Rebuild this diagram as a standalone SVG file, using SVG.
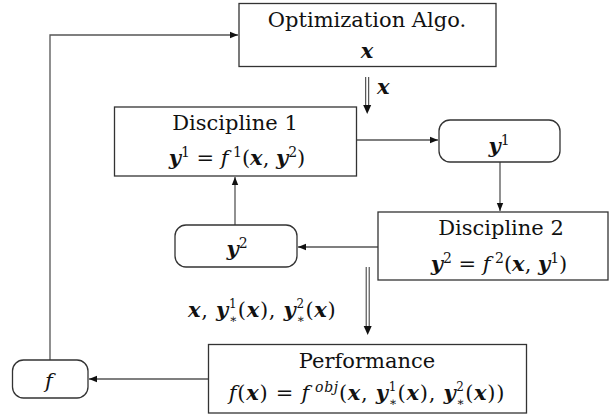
<svg xmlns="http://www.w3.org/2000/svg" width="609" height="416" viewBox="0 0 609 416">
<defs>
<marker id="ah" markerWidth="8" markerHeight="8" refX="8" refY="4" orient="auto" markerUnits="userSpaceOnUse">
<path d="M0,0.8 L8,4 L0,7.2 Z" fill="#111"/>
</marker>
<style>
text{font-family:"DejaVu Serif","Liberation Serif",serif;font-size:21px;fill:#111}
.box{fill:#fff;stroke:#333;stroke-width:1.3}
.ln{fill:none;stroke:#555;stroke-width:1.3}
.dl{fill:none;stroke:#333;stroke-width:1}
.bi{font-weight:bold;font-style:italic}
.it{font-style:italic}
.sp{font-size:14px}
.ss{font-size:12px}
.wide{letter-spacing:0.7px}
</style>
</defs>
<rect width="609" height="416" fill="#fff"/>

<g id="connectors">
<path class="ln" d="M50,360 V35 H238" marker-end="url(#ah)"/>
<path class="ln" d="M357,140 H438" marker-end="url(#ah)"/>
<path class="ln" d="M500,162 V211" marker-end="url(#ah)"/>
<path class="ln" d="M378,247 H298" marker-end="url(#ah)"/>
<path class="ln" d="M235,225 V177" marker-end="url(#ah)"/>
<path class="ln" d="M208,379 H89" marker-end="url(#ah)"/>
<g id="dbl1">
<path class="dl" d="M365.7,77 V106 M368.7,77 V106"/>
<path d="M363.2,105 L367.2,114 L371.2,105 Z" fill="#111"/>
</g>
<g id="dbl2">
<path class="dl" d="M366.2,267 V327 M369.2,267 V327"/>
<path d="M363.7,326 L367.7,335 L371.7,326 Z" fill="#111"/>
</g>
<text x="377" y="94" class="bi">x</text>
<text x="188" y="317" class="wide"><tspan class="bi">x</tspan>, <tspan class="bi">y</tspan><tspan class="ss" dy="-9">1</tspan><tspan class="ss" dx="-8.3" dy="15">∗</tspan><tspan dy="-6">(</tspan><tspan class="bi">x</tspan>), <tspan class="bi">y</tspan><tspan class="ss" dy="-9">2</tspan><tspan class="ss" dx="-8.3" dy="15">∗</tspan><tspan dy="-6">(</tspan><tspan class="bi">x</tspan>)</text>
</g>

<g id="opt">
<rect class="box" x="239" y="3.5" width="257" height="63"/>
<text x="367" y="27" text-anchor="middle">Optimization Algo.</text>
<text x="367" y="58" text-anchor="middle" class="bi">x</text>
</g>

<g id="disc1">
<rect class="box" x="114.5" y="107" width="242" height="69"/>
<text x="235" y="130" text-anchor="middle">Discipline 1</text>
<text x="237" y="165" text-anchor="middle"><tspan class="bi">y</tspan><tspan class="sp" dy="-8">1</tspan><tspan dy="8"> = </tspan><tspan class="it">f</tspan><tspan class="sp" dy="-8"> 1</tspan><tspan dy="8">(</tspan><tspan class="bi">x</tspan>, <tspan class="bi">y</tspan><tspan class="sp" dy="-8">2</tspan><tspan dy="8">)</tspan></text>
</g>

<g id="y1">
<rect class="box" x="439" y="120" width="121" height="42" rx="11"/>
<text x="499" y="153" text-anchor="middle"><tspan class="bi">y</tspan><tspan class="sp" dy="-8">1</tspan></text>
</g>

<g id="disc2">
<rect class="box" x="378" y="212" width="230" height="68"/>
<text x="501" y="235" text-anchor="middle">Discipline 2</text>
<text x="499" y="271" text-anchor="middle"><tspan class="bi">y</tspan><tspan class="sp" dy="-8">2</tspan><tspan dy="8"> = </tspan><tspan class="it">f</tspan><tspan class="sp" dy="-8"> 2</tspan><tspan dy="8">(</tspan><tspan class="bi">x</tspan>, <tspan class="bi">y</tspan><tspan class="sp" dy="-8">1</tspan><tspan dy="8">)</tspan></text>
</g>

<g id="y2">
<rect class="box" x="175" y="225" width="122" height="42" rx="11"/>
<text x="237" y="256" text-anchor="middle"><tspan class="bi">y</tspan><tspan class="sp" dy="-8">2</tspan></text>
</g>

<g id="perf">
<rect class="box" x="208.5" y="344.5" width="318" height="68.5"/>
<text x="367" y="368" text-anchor="middle">Performance</text>
<text x="367" y="400" text-anchor="middle" class="wide"><tspan class="it">f</tspan>(<tspan class="bi">x</tspan>) = <tspan class="it">f</tspan><tspan class="sp it" dy="-8"> obj</tspan><tspan dy="8">(</tspan><tspan class="bi">x</tspan>, <tspan class="bi">y</tspan><tspan class="ss" dy="-9">1</tspan><tspan class="ss" dx="-8.3" dy="15">∗</tspan><tspan dy="-6">(</tspan><tspan class="bi">x</tspan>), <tspan class="bi">y</tspan><tspan class="ss" dy="-9">2</tspan><tspan class="ss" dx="-8.3" dy="15">∗</tspan><tspan dy="-6">(</tspan><tspan class="bi">x</tspan>))</text>
</g>

<g id="f">
<rect class="box" x="12.5" y="360" width="75.5" height="38" rx="11"/>
<text x="49" y="388" text-anchor="middle" class="it">f</text>
</g>
</svg>
